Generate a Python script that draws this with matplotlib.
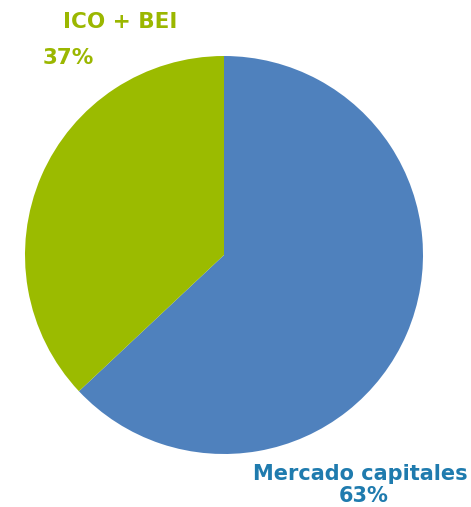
import matplotlib.pyplot as plt

etiquetas = ['Mercado capitales', 'ICO + BEI']
valores = [63, 37]
colores = ['#4F81BD', '#9BBB00']

fig = plt.figure(figsize=(4.71, 5.07), dpi=100)
ax = fig.add_axes([0, 0, 1, 1])

ax.pie(valores, colors=colores, startangle=90, counterclock=False,
       center=(224, 252), radius=199, frame=True)
ax.set_xlim(0, 471)
ax.set_ylim(0, 507)
ax.set_aspect('equal')
ax.axis('off')

# Etiquetas
ax.text(120, 507 - 22, etiquetas[1], color='#9BB700', fontsize=15.5,
        fontweight='bold', ha='center', va='center')
ax.text(68, 507 - 58, f'{valores[1]}%', color='#9BB700', fontsize=15.5,
        fontweight='bold', ha='center', va='center')
ax.text(360, 507 - 474, etiquetas[0], color='#1F7BAE', fontsize=15,
        fontweight='bold', ha='center', va='center')
ax.text(364, 507 - 496, f'{valores[0]}%', color='#1F7BAE', fontsize=15,
        fontweight='bold', ha='center', va='center')

fig.savefig('out.png', dpi=100)
